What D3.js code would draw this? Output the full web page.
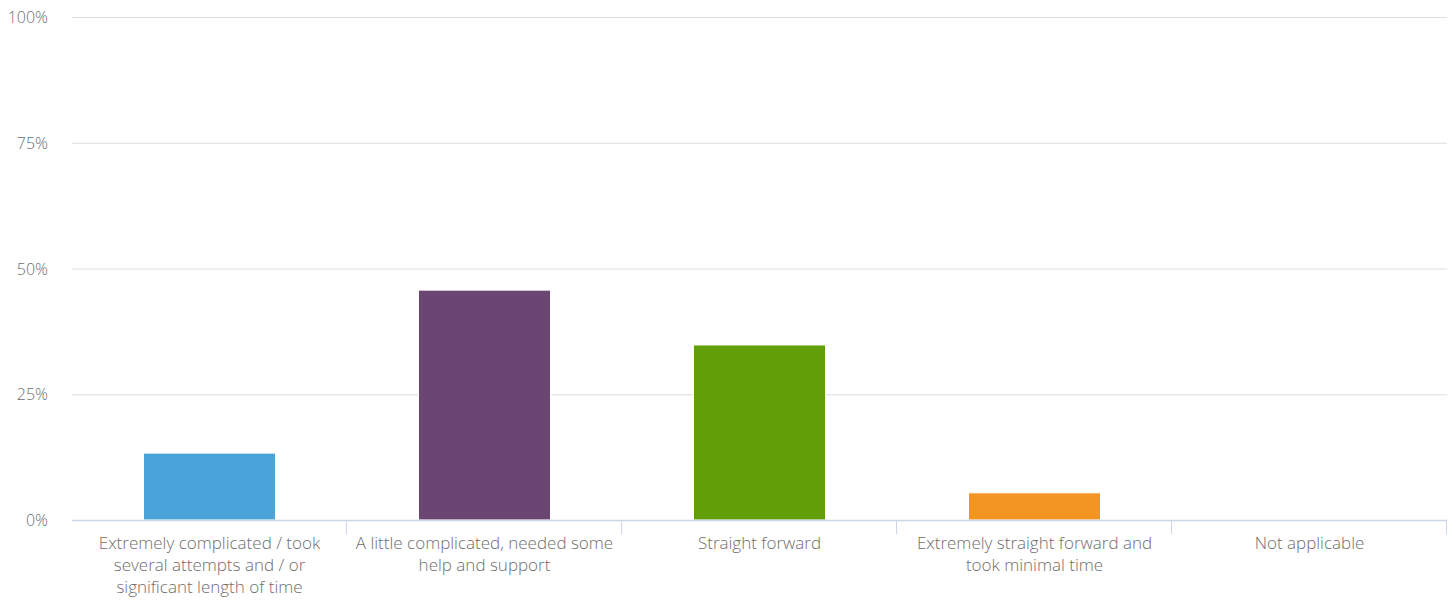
<!DOCTYPE html>
<html><head><meta charset="utf-8">
<script src="https://cdn.jsdelivr.net/npm/d3@7"></script>
<style>body{margin:0;background:#fff}svg{display:block;font-family:"Open Sans",sans-serif}</style>
</head><body>
<svg id="c" width="1456" height="602"></svg>
<script>
const categories = [
  ["Extremely complicated / took","several attempts and / or","significant length of time"],
  ["A little complicated, needed some","help and support"],
  ["Straight forward"],
  ["Extremely straight forward and","took minimal time"],
  ["Not applicable"]
];
const values = [13.3, 45.7, 34.8, 5.4, 0];
const colors = ["#4aa3d9", "#6c4673", "#629e0a", "#f49422", "#7cb5ec"];
const yTicks = [0, 25, 50, 75, 100];

(function(){
const svg = d3.select("#c");
const pl = 72, pr = 1447, pt = 17, pb = 520;
const x = d3.scaleBand().domain(d3.range(categories.length)).range([pl, pr]).paddingInner(0.52).paddingOuter(0.26);
const y = d3.scaleLinear().domain([0, 100]).range([pb, pt]);

svg.append("g").selectAll("line").data(yTicks.filter(d => d > 0)).join("line")
  .attr("x1", pl).attr("x2", pr)
  .attr("y1", d => y(d) + 0.5).attr("y2", d => y(d) + 0.5)
  .attr("stroke", "#dedede").attr("stroke-width", 1);

svg.append("g").selectAll("text").data(yTicks).join("text")
  .attr("x", 48).attr("y", d => y(d) + 6)
  .attr("text-anchor", "end").attr("fill", "#6e6e6e").attr("font-size", 16).attr("font-weight", 300)
  .text(d => d + "%");

svg.append("g").selectAll("rect").data(values).join("rect")
  .attr("x", (d, i) => x(i)).attr("width", x.bandwidth())
  .attr("y", d => y(d)).attr("height", d => pb - y(d))
  .attr("fill", (d, i) => colors[i]).attr("stroke", "#fff").attr("stroke-width", 1);

svg.append("line").attr("x1", pl).attr("x2", pr).attr("y1", pb + 0.5).attr("y2", pb + 0.5)
  .attr("stroke", "#ccd6eb").attr("stroke-width", 1.5);

const tickPos = d3.range(1, categories.length + 1).map(i => pl + i * (pr - pl) / categories.length);
svg.append("g").selectAll("line").data(tickPos).join("line")
  .attr("x1", d => Math.round(d) - 0.5).attr("x2", d => Math.round(d) - 0.5)
  .attr("y1", pb).attr("y2", pb + 14)
  .attr("stroke", "#ccd6eb").attr("stroke-width", 1);

const lab = svg.append("g").selectAll("text").data(categories).join("text")
  .attr("x", (d, i) => x(i) + x.bandwidth() / 2).attr("y", 549)
  .attr("text-anchor", "middle").attr("fill", "#6e6e6e").attr("font-size", 17).attr("font-weight", 300);
lab.selectAll("tspan").data(d => d).join("tspan")
  .attr("x", function(){ return this.parentNode.getAttribute("x"); })
  .attr("dy", (d, i) => i === 0 ? 0 : 22)
  .text(d => d);
})();
</script>
</body></html>
